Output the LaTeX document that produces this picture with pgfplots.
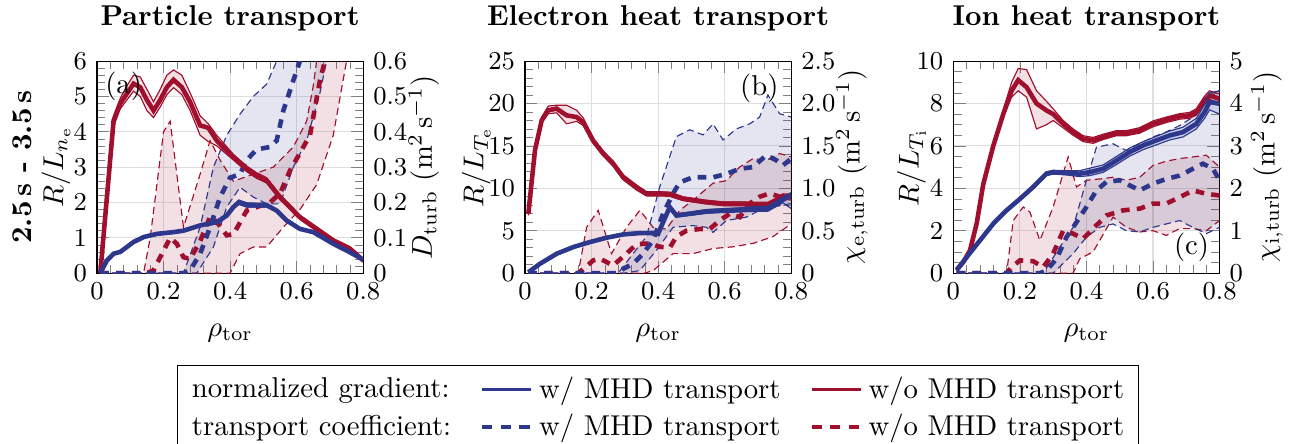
\documentclass[border=0pt]{standalone}
\usepackage{pgfplots}
\pgfplotsset{compat=1.18}
\usepackage{pgfplotstable}
\usepgfplotslibrary{fillbetween}
\definecolor{cblue}{RGB}{45,55,140}
\definecolor{cred}{RGB}{160,15,45}

\pgfplotsset{
 every axis title/.style={at={(axis description cs:0.5,1)}, anchor=base, yshift=12.3pt, font=\bfseries},
 common/.style={scale only axis, width=92.8pt, height=73.9pt, xmin=0, xmax=0.8, ymin=0,
   xtick={0,0.2,0.4,0.6,0.8}, minor x tick num=4, tick label style={font=\small}},
 coef/.style={common, ytick pos=right, yticklabel pos=right, grid=major, major grid style={gray!25},
   xlabel={$\rho_{\mathrm{tor}}$}, xlabel style={at={(axis description cs:0.5,0)}, anchor=base, yshift=-22pt},
   ylabel style={at={(axis description cs:#1,0.5)}, anchor=center, rotate=0}},
 grad/.style={common, axis y line*=left, axis x line=none, clip mode=individual,
   ylabel style={at={(axis description cs:#1,0.5)}, anchor=center}},
 sm/.style={line width=1.6pt, forget plot},
 se/.style={line width=0.4pt, forget plot},
 dm/.style={line width=1.6pt, dash pattern=on 3pt off 2.5pt, forget plot},
 de/.style={line width=0.4pt, dash pattern=on 2.5pt off 1.5pt, forget plot},
 bf/.style={fill=#1, fill opacity=0.13, draw=none, forget plot},
}

% ---------- solid series: x y lo hi ----------
\pgfplotstableread{
x y lo hi
0.01 0.00 0.00 0.00
0.05 4.32 4.15 4.45
0.07 4.80 4.65 4.95
0.09 5.08 4.90 5.30
0.11 5.36 5.15 5.60
0.13 5.26 5.00 5.55
0.15 4.90 4.60 5.20
0.17 4.60 4.40 4.85
0.19 4.90 4.70 5.20
0.21 5.26 5.05 5.60
0.23 5.47 5.25 5.75
0.255 5.26 5.05 5.60
0.28 4.84 4.60 5.10
0.31 4.18 3.90 4.45
0.335 4.11 3.72 4.22
0.36 3.75 3.60 3.90
0.41 3.28 3.20 3.36
0.45 2.95 2.87 3.03
0.48 2.76 2.68 2.84
0.51 2.62 2.55 2.70
0.55 2.15 2.08 2.22
0.61 1.58 1.52 1.64
0.66 1.25 1.19 1.31
0.71 0.92 0.86 0.98
0.76 0.69 0.63 0.75
0.80 0.36 0.31 0.41
}\aRed
\pgfplotstableread{
x y lo hi
0.01 0.00 0.00 0.00
0.03 0.36 0.33 0.39
0.05 0.55 0.52 0.58
0.07 0.60 0.57 0.63
0.09 0.74 0.71 0.77
0.11 0.88 0.85 0.91
0.14 1.02 0.99 1.05
0.18 1.11 1.08 1.14
0.23 1.16 1.13 1.19
0.26 1.20 1.17 1.23
0.31 1.35 1.32 1.38
0.36 1.44 1.40 1.48
0.39 1.63 1.59 1.67
0.41 1.87 1.83 1.91
0.426 2.00 1.95 2.07
0.45 1.92 1.87 1.99
0.48 1.92 1.87 1.98
0.51 1.92 1.87 1.97
0.54 1.77 1.73 1.81
0.57 1.49 1.45 1.53
0.61 1.25 1.22 1.28
0.65 1.16 1.13 1.19
0.71 0.83 0.80 0.86
0.76 0.59 0.56 0.62
0.80 0.38 0.35 0.41
}\aBlue
\pgfplotstableread{
x y lo hi
0.01 7.00 6.80 7.20
0.03 14.5 14.2 14.8
0.05 18.0 17.7 18.4
0.07 19.2 18.8 19.7
0.095 19.4 18.9 19.8
0.125 18.6 17.6 19.8
0.155 18.4 17.9 19.2
0.175 17.8 17.4 18.3
0.205 15.6 15.3 15.9
0.235 14.1 13.8 14.4
0.265 12.9 12.6 13.2
0.295 11.3 11.0 11.6
0.335 10.1 9.8 10.4
0.365 9.36 9.10 9.60
0.405 9.36 9.10 9.60
0.435 9.30 9.05 9.55
0.475 8.77 8.55 9.00
0.545 8.37 8.15 8.60
0.595 8.18 7.95 8.40
0.645 8.18 7.95 8.40
0.695 8.10 7.85 8.35
0.73 8.10 7.85 8.35
0.755 8.57 8.30 8.85
0.775 9.04 8.75 9.35
0.80 8.96 8.60 9.30
}\bRed
\pgfplotstableread{
x y lo hi
0.01 0.10 0.05 0.15
0.045 1.10 1.00 1.20
0.095 2.28 2.18 2.38
0.145 3.07 2.97 3.17
0.195 3.66 3.56 3.76
0.245 4.17 4.07 4.27
0.295 4.56 4.46 4.66
0.345 4.72 4.62 4.82
0.395 4.72 4.62 4.82
0.40 4.64 4.54 4.74
0.415 6.00 5.80 6.20
0.435 7.78 7.50 8.00
0.455 6.80 6.60 7.00
0.495 7.00 6.80 7.20
0.545 7.27 7.05 7.50
0.595 7.39 7.15 7.60
0.645 7.47 7.20 7.70
0.695 7.59 7.30 7.85
0.73 7.59 7.30 7.90
0.755 8.18 7.85 8.50
0.775 8.65 8.30 9.00
0.80 9.16 7.60 9.50
}\bBlue
\pgfplotstableread{
x y lo hi
0.01 0.16 0.10 0.22
0.03 0.52 0.45 0.60
0.05 1.07 1.00 1.15
0.07 2.33 2.25 2.42
0.09 4.20 4.10 4.30
0.12 6.00 5.90 6.12
0.15 7.50 7.35 7.70
0.175 8.60 8.30 9.00
0.195 9.10 8.60 9.65
0.22 8.77 8.30 9.60
0.25 8.00 6.80 8.60
0.28 7.67 7.00 8.10
0.30 7.50 7.20 7.75
0.33 7.04 6.85 7.20
0.36 6.65 6.50 6.80
0.39 6.34 6.20 6.48
0.42 6.26 6.12 6.40
0.45 6.42 6.30 6.55
0.49 6.60 6.48 6.72
0.52 6.60 6.48 6.72
0.56 6.73 6.60 6.86
0.60 7.04 6.90 7.18
0.64 7.23 7.10 7.36
0.68 7.39 7.26 7.52
0.71 7.44 7.30 7.58
0.73 7.60 7.45 7.75
0.755 8.14 7.95 8.35
0.77 8.38 8.20 8.60
0.80 8.22 8.00 8.45
}\cRed
\pgfplotstableread{
x y lo hi
0.01 0.13 0.08 0.18
0.04 0.75 0.68 0.82
0.08 1.54 1.46 1.62
0.12 2.33 2.25 2.41
0.16 2.96 2.88 3.04
0.20 3.50 3.42 3.58
0.24 4.06 3.98 4.14
0.28 4.69 4.60 4.78
0.30 4.76 4.67 4.85
0.34 4.73 4.63 4.83
0.38 4.69 4.55 4.83
0.41 4.76 4.60 4.95
0.45 4.92 4.75 5.10
0.49 5.31 5.12 5.50
0.53 5.71 5.52 5.90
0.57 6.02 5.82 6.20
0.61 6.26 6.05 6.45
0.65 6.49 6.28 6.70
0.69 6.65 6.42 6.88
0.73 7.04 6.80 7.30
0.755 7.60 7.30 7.95
0.77 8.07 7.70 8.50
0.80 7.99 7.50 8.60
}\cBlue

\begin{document}
\begin{tikzpicture}
% ================= (a) =================
\begin{axis}[coef=1.228, at={(0pt,0pt)}, anchor=south west, ymax=0.6,
  ytick={0,0.1,0.2,0.3,0.4,0.5,0.6}, minor y tick num=4,
  title={Particle transport},
  ylabel={$D_{\mathrm{turb}}\ (\mathrm{m^2\,s^{-1}})$}]
 \addplot[cred, de, name path=aRu] table {
0.01 0
0.14 0
0.16 0.10
0.20 0.40
0.22 0.43
0.26 0.13
0.31 0.28
0.34 0.375
0.37 0.32
0.41 0.26
0.47 0.28
0.53 0.30
0.59 0.357
0.63 0.43
0.65 0.53
0.66 0.60
0.70 0.90
0.80 1.20
 };
 \addplot[cred, de, name path=aRl] table {
0.01 0
0.40 0
0.43 0.055
0.47 0.074
0.51 0.074
0.56 0.13
0.61 0.18
0.66 0.25
0.71 0.39
0.75 0.60
0.80 0.85
 };
 \addplot[bf=cred] fill between[of=aRu and aRl];
 \addplot[cblue, de, name path=aBu] table {
0.01 0
0.26 0
0.31 0.13
0.35 0.30
0.39 0.39
0.43 0.45
0.47 0.50
0.51 0.535
0.54 0.60
0.60 0.90
0.80 1.20
 };
 \addplot[cblue, de, name path=aBl] table {
0.01 0
0.30 0
0.35 0.074
0.39 0.187
0.43 0.243
0.47 0.215
0.51 0.196
0.55 0.196
0.59 0.30
0.63 0.375
0.67 0.51
0.69 0.60
0.75 0.90
0.80 1.10
 };
 \addplot[bf=cblue] fill between[of=aBu and aBl];
 \addplot[cred, dm] table {
0.01 0
0.15 0
0.17 0.008
0.19 0.045
0.22 0.10
0.24 0.083
0.26 0.045
0.28 0.04
0.31 0.09
0.34 0.16
0.36 0.145
0.39 0.107
0.41 0.11
0.45 0.177
0.48 0.187
0.52 0.20
0.55 0.225
0.58 0.29
0.61 0.34
0.64 0.39
0.67 0.545
0.685 0.60
0.72 0.80
0.80 1.00
 };
 \addplot[cblue, dm] table {
0.01 0
0.26 0
0.28 0.008
0.31 0.055
0.34 0.13
0.37 0.215
0.40 0.27
0.43 0.28
0.45 0.32
0.48 0.35
0.52 0.357
0.54 0.375
0.56 0.46
0.59 0.545
0.61 0.60
0.65 0.75
0.80 1.00
 };
\end{axis}
\begin{axis}[grad=-0.154, at={(0pt,0pt)}, anchor=south west, ymax=6,
  ytick={0,1,2,3,4,5,6}, minor y tick num=4,
  ylabel={$R/L_{n_{\mathrm{e}}}$}]
 \addplot[cred, se, name path=aRlo] table[x=x,y=lo] {\aRed};
 \addplot[cred, se, name path=aRhi] table[x=x,y=hi] {\aRed};
 \addplot[bf=cred] fill between[of=aRlo and aRhi];
 \addplot[cred, sm] table[x=x,y=y] {\aRed};
 \addplot[cblue, se, name path=aBlo] table[x=x,y=lo] {\aBlue};
 \addplot[cblue, se, name path=aBhi] table[x=x,y=hi] {\aBlue};
 \addplot[bf=cblue] fill between[of=aBlo and aBhi];
 \addplot[cblue, sm] table[x=x,y=y] {\aBlue};
 \node at (rel axis cs:0.10,0.88) {(a)};
 \node[rotate=90, font=\bfseries] at (rel axis cs:-0.28,0.5) {2.5\,s - 3.5\,s};
\end{axis}

% ================= (b) =================
\begin{axis}[coef=1.228, at={(149.2pt,0pt)}, anchor=south west, ymax=2.5,
  ytick={0,0.5,1,1.5,2,2.5}, yticklabels={0,0.5,1.0,1.5,2.0,2.5}, minor y tick num=4,
  title={Electron heat transport},
  ylabel={$\chi_{\mathrm{e,turb}}\ (\mathrm{m^2\,s^{-1}})$}]
 \addplot[cred, de, name path=bRu] table {
0.01 0
0.16 0
0.185 0.54
0.22 0.74
0.26 0.23
0.305 0.54
0.345 0.74
0.385 0.54
0.425 0.52
0.465 0.74
0.505 0.86
0.565 1.06
0.605 1.09
0.645 1.25
0.685 1.35
0.725 1.33
0.765 1.41
0.80 1.37
 };
 \addplot[cred, de, name path=bRl] table {
0.01 0
0.36 0
0.385 0.03
0.445 0.23
0.505 0.23
0.565 0.29
0.625 0.31
0.685 0.35
0.745 0.43
0.80 0.58
 };
 \addplot[bf=cred] fill between[of=bRu and bRl];
 \addplot[cblue, de, name path=bBu] table {
0.01 0
0.28 0
0.325 0.23
0.365 0.43
0.405 1.02
0.455 1.61
0.495 1.69
0.535 1.63
0.565 1.76
0.595 1.57
0.635 1.70
0.675 1.76
0.705 1.84
0.73 2.10
0.765 1.88
0.80 1.84
 };
 \addplot[cblue, de, name path=bBl] table {
0.01 0
0.30 0
0.345 0.03
0.395 0.27
0.445 0.54
0.505 0.56
0.545 0.54
0.565 0.48
0.605 0.62
0.665 0.66
0.705 0.74
0.745 0.78
0.80 0.82
 };
 \addplot[bf=cblue] fill between[of=bBu and bBl];
 \addplot[cred, dm] table {
0.01 0
0.16 0
0.17 0.03
0.205 0.15
0.225 0.17
0.265 0.09
0.305 0.23
0.335 0.34
0.375 0.35
0.405 0.31
0.435 0.30
0.455 0.43
0.485 0.50
0.525 0.52
0.555 0.52
0.585 0.62
0.615 0.70
0.645 0.66
0.675 0.82
0.705 0.90
0.735 0.94
0.765 0.90
0.80 0.90
 };
 \addplot[cblue, dm] table {
0.01 0
0.275 0
0.295 0.05
0.325 0.11
0.355 0.23
0.385 0.39
0.415 0.70
0.445 0.94
0.465 1.07
0.505 1.13
0.565 1.13
0.605 1.17
0.645 1.23
0.685 1.25
0.725 1.39
0.755 1.33
0.775 1.27
0.80 1.35
 };
\end{axis}
\begin{axis}[grad=-0.183, at={(149.2pt,0pt)}, anchor=south west, ymax=25,
  ytick={0,5,10,15,20,25}, minor y tick num=4,
  ylabel={$R/L_{T_{\mathrm{e}}}$},
  legend columns=3,
  legend style={at={(0.5,0)}, anchor=north, yshift=-32pt, draw=black, font=\normalsize,
    /tikz/every even column/.append style={column sep=8pt}},
  legend cell align=left]
 \addplot[cred, se, name path=bRlo] table[x=x,y=lo] {\bRed};
 \addplot[cred, se, name path=bRhi] table[x=x,y=hi] {\bRed};
 \addplot[bf=cred] fill between[of=bRlo and bRhi];
 \addplot[cred, sm] table[x=x,y=y] {\bRed};
 \addplot[cblue, se, name path=bBlo] table[x=x,y=lo] {\bBlue};
 \addplot[cblue, se, name path=bBhi] table[x=x,y=hi] {\bBlue};
 \addplot[bf=cblue] fill between[of=bBlo and bBhi];
 \addplot[cblue, sm] table[x=x,y=y] {\bBlue};
 \node at (rel axis cs:0.88,0.87) {(b)};
 \addlegendimage{empty legend}\addlegendentry{normalized gradient:}
 \addlegendimage{cblue, line width=1pt}\addlegendentry{w/ MHD transport}
 \addlegendimage{cred, line width=1pt}\addlegendentry{w/o MHD transport}
 \addlegendimage{empty legend}\addlegendentry{transport coefficient:}
 \addlegendimage{cblue, line width=1.6pt, dash pattern=on 3.5pt off 3pt}\addlegendentry{w/ MHD transport}
 \addlegendimage{cred, line width=1.6pt, dash pattern=on 3.5pt off 3pt}\addlegendentry{w/o MHD transport}
\end{axis}

% ================= (c) =================
\begin{axis}[coef=1.178, at={(298.5pt,0pt)}, anchor=south west, ymax=5,
  ytick={0,1,2,3,4,5}, minor y tick num=3,
  title={Ion heat transport},
  ylabel={$\chi_{\mathrm{i,turb}}\ (\mathrm{m^2\,s^{-1}})$}]
 \addplot[cred, de, name path=cRu] table {
0.01 0
0.16 0
0.18 1.24
0.21 1.56
0.23 1.44
0.26 0.77
0.30 1.56
0.345 2.74
0.37 2.03
0.40 2.19
0.44 2.22
0.48 2.26
0.52 2.19
0.56 2.26
0.60 2.54
0.64 2.64
0.68 2.70
0.72 2.74
0.76 2.78
0.80 2.50
 };
 \addplot[cred, de, name path=cRl] table {
0.01 0
0.36 0
0.38 0.34
0.42 0.50
0.48 1.32
0.52 1.08
0.56 0.97
0.60 1.00
0.64 0.89
0.68 1.05
0.72 1.05
0.76 1.00
0.80 1.24
 };
 \addplot[bf=cred] fill between[of=cRu and cRl];
 \addplot[cblue, de, name path=cBu] table {
0.01 0
0.27 0
0.32 0.61
0.36 1.08
0.40 2.19
0.43 2.97
0.48 3.05
0.52 2.89
0.56 3.05
0.60 3.21
0.64 3.33
0.68 3.48
0.72 3.68
0.76 4.07
0.80 4.31
 };
 \addplot[cblue, de, name path=cBl] table {
0.01 0
0.30 0
0.36 0.46
0.40 0.85
0.44 1.08
0.48 1.16
0.52 1.00
0.56 0.97
0.60 1.08
0.64 1.16
0.68 1.24
0.72 1.08
0.76 0.93
0.80 1.08
 };
 \addplot[bf=cblue] fill between[of=cBu and cBl];
 \addplot[cred, dm] table {
0.01 0
0.16 0
0.175 0.14
0.20 0.30
0.24 0.28
0.27 0.14
0.30 0.46
0.33 1.00
0.36 0.93
0.39 0.81
0.42 1.05
0.46 1.36
0.51 1.48
0.56 1.52
0.60 1.64
0.64 1.64
0.68 1.79
0.72 1.95
0.76 1.87
0.80 1.83
 };
 \addplot[cblue, dm] table {
0.01 0
0.26 0
0.28 0.06
0.31 0.34
0.34 0.85
0.37 1.20
0.40 1.56
0.43 1.95
0.46 2.15
0.50 2.19
0.54 2.03
0.56 1.95
0.60 2.11
0.64 2.22
0.68 2.30
0.72 2.46
0.75 2.58
0.78 2.46
0.80 2.19
 };
\end{axis}
\begin{axis}[grad=-0.157, at={(298.5pt,0pt)}, anchor=south west, ymax=10,
  ytick={0,2,4,6,8,10}, minor y tick num=3,
  ylabel={$R/L_{T_{\mathrm{i}}}$}]
 \addplot[cred, se, name path=cRlo] table[x=x,y=lo] {\cRed};
 \addplot[cred, se, name path=cRhi] table[x=x,y=hi] {\cRed};
 \addplot[bf=cred] fill between[of=cRlo and cRhi];
 \addplot[cred, sm] table[x=x,y=y] {\cRed};
 \addplot[cblue, se, name path=cBlo] table[x=x,y=lo] {\cBlue};
 \addplot[cblue, se, name path=cBhi] table[x=x,y=hi] {\cBlue};
 \addplot[bf=cblue] fill between[of=cBlo and cBhi];
 \addplot[cblue, sm] table[x=x,y=y] {\cBlue};
 \node at (rel axis cs:0.895,0.12) {(c)};
\end{axis}

\pgfresetboundingbox
\path (-33.8pt,-59.3pt) rectangle (416.2pt,95.2pt);
\end{tikzpicture}
\end{document}
